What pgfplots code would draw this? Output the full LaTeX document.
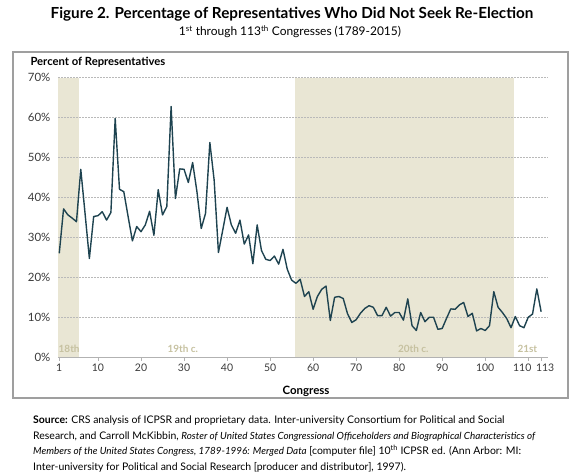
\documentclass[border=0pt]{standalone}
\usepackage{fontspec}
\setmainfont{Lato}
\usepackage{pgfplots}
\pgfplotsset{compat=1.18}
\definecolor{lineteal}{HTML}{1E4350}
\definecolor{era}{HTML}{E9E6D4}
\definecolor{eratext}{HTML}{C6C1A0}
\definecolor{labgray}{HTML}{3A3A3A}
% italic titles in the note are set a little smaller
\newcommand{\ttl}[1]{{\fontsize{9.9}{15.5}\selectfont\itshape #1}}

\begin{document}
\begin{tikzpicture}
\begin{scope}[x=1bp,y=1bp]
\useasboundingbox (0,0) rectangle (585,474);
% titles
\node[anchor=base, font=\fontsize{15.3}{18}\selectfont\bfseries] at (292,455.5) {Figure 2. Percentage of Representatives Who Did Not Seek Re-Election};
\node[anchor=base, font=\fontsize{12}{14}\selectfont] at (290,438) {1\textsuperscript{st} through 113\textsuperscript{th} Congresses (1789-2015)};
% frame
\draw[gray!75, line width=1.1bp] (13,76) rectangle (568,422);
\node[anchor=base west, font=\fontsize{11.3}{13}\selectfont\bfseries] at (27,408) {Percent of Representatives};
\node[font=\fontsize{11.5}{13}\selectfont\bfseries] at (306,83) {Congress};
% source note
\node[anchor=north west, align=left, inner sep=0pt, font=\fontsize{10.5}{15.5}\selectfont] at (33,58) {%
\textbf{Source:} CRS analysis of ICPSR and proprietary data. Inter-university Consortium for Political and Social\\
Research, and Carroll McKibbin, \ttl{Roster of United States Congressional Officeholders and Biographical Characteristics of}\\
\ttl{Members of the United States Congress, 1789-1996: Merged Data} [computer file] 10\textsuperscript{th} ICPSR ed. (Ann Arbor: MI:\\
Inter-university for Political and Social Research [producer and distributor], 1997).};
\end{scope}

\begin{axis}[
  at={(58.4bp,116.3bp)}, anchor=south west,
  scale only axis, width=489.6bp, height=280bp,
  set layers,
  xmin=0.8, xmax=114.6, ymin=0, ymax=70,
  axis x line*=bottom, axis y line*=left,
  y axis line style={draw=none},
  x axis line style={gray!60, line width=0.6bp},
  xtick={1,10,20,30,40,50,60,70,80,90,100,110,113},
  xticklabels={1,10,20,30,40,50,60,70,80,90,100,{\hspace*{-12bp}110},{\hspace*{8bp}113}},
  ytick={0,10,20,30,40,50,60,70},
  yticklabels={0\%,10\%,20\%,30\%,40\%,50\%,60\%,70\%},
  tick align=outside,
  major tick length=3bp,
  xtick style={gray!60, line width=0.6bp},
  ytick style={draw=none},
  tick label style={text=labgray},
  xticklabel style={font=\fontsize{10.5}{12}\selectfont},
  yticklabel style={font=\fontsize{11.5}{13}\selectfont, xshift=-1.5bp},
  ymajorgrids,
  major grid style={gray!55, line width=0.6bp, dash pattern=on 1.5bp off 1.5bp},
  clip=false,
]
% century bands
\addplot[draw=none, fill=era, on layer=axis background] coordinates {(0.8,70) (5.6,70)} \closedcycle;
\addplot[draw=none, fill=era, on layer=axis background] coordinates {(55.8,70) (106.6,70)} \closedcycle;

\node[font=\fontsize{10}{12}\selectfont\bfseries, text=eratext] at (axis cs:3.3,2.3) {18th};
\node[font=\fontsize{10}{12}\selectfont\bfseries, text=eratext] at (axis cs:29.7,2.3) {19th c.};
\node[font=\fontsize{10}{12}\selectfont\bfseries, text=eratext] at (axis cs:83.3,2.3) {20th c.};
\node[font=\fontsize{10}{12}\selectfont\bfseries, text=eratext] at (axis cs:109.8,2.3) {21st};

\addplot[lineteal, line width=1.4bp, line join=round, mark=none] table {
n pct
1 26.1
2 37.2
3 35.7
4 34.9
5 34.0
6 47.1
7 36.0
8 24.8
9 35.3
10 35.5
11 36.5
12 34.4
13 36.3
14 59.8
15 42.1
16 41.5
17 35.3
18 29.2
19 32.8
20 31.5
21 33.2
22 36.6
23 30.6
24 42.0
25 35.7
26 37.8
27 62.8
28 39.8
29 47.2
30 47.1
31 43.8
32 48.8
33 41.5
34 32.3
35 36.1
36 53.8
37 44.4
38 26.3
39 31.9
40 37.6
41 33.2
42 31.1
43 34.4
44 28.4
45 30.7
46 23.5
47 33.2
48 26.8
49 24.6
50 24.3
51 25.4
52 23.4
53 27.1
54 22.1
55 19.4
56 18.6
57 19.6
58 15.3
59 16.5
60 12.1
61 15.3
62 17.1
63 17.9
64 9.3
65 15.1
66 15.3
67 14.8
68 11.0
69 8.8
70 9.5
71 11.1
72 12.3
73 13.0
74 12.6
75 10.5
76 10.5
77 12.6
78 10.4
79 11.3
80 11.3
81 9.4
82 14.7
83 8.0
84 6.8
85 11.3
86 9.0
87 10.1
88 10.1
89 7.1
90 7.3
91 9.8
92 12.2
93 12.1
94 13.2
95 13.8
96 10.3
97 11.1
98 6.7
99 7.3
100 6.8
101 8.0
102 16.5
103 12.6
104 11.3
105 9.8
106 7.5
107 10.3
108 8.0
109 7.5
110 10.1
111 10.9
112 17.2
113 11.5
};
\end{axis}
\end{tikzpicture}
\end{document}
